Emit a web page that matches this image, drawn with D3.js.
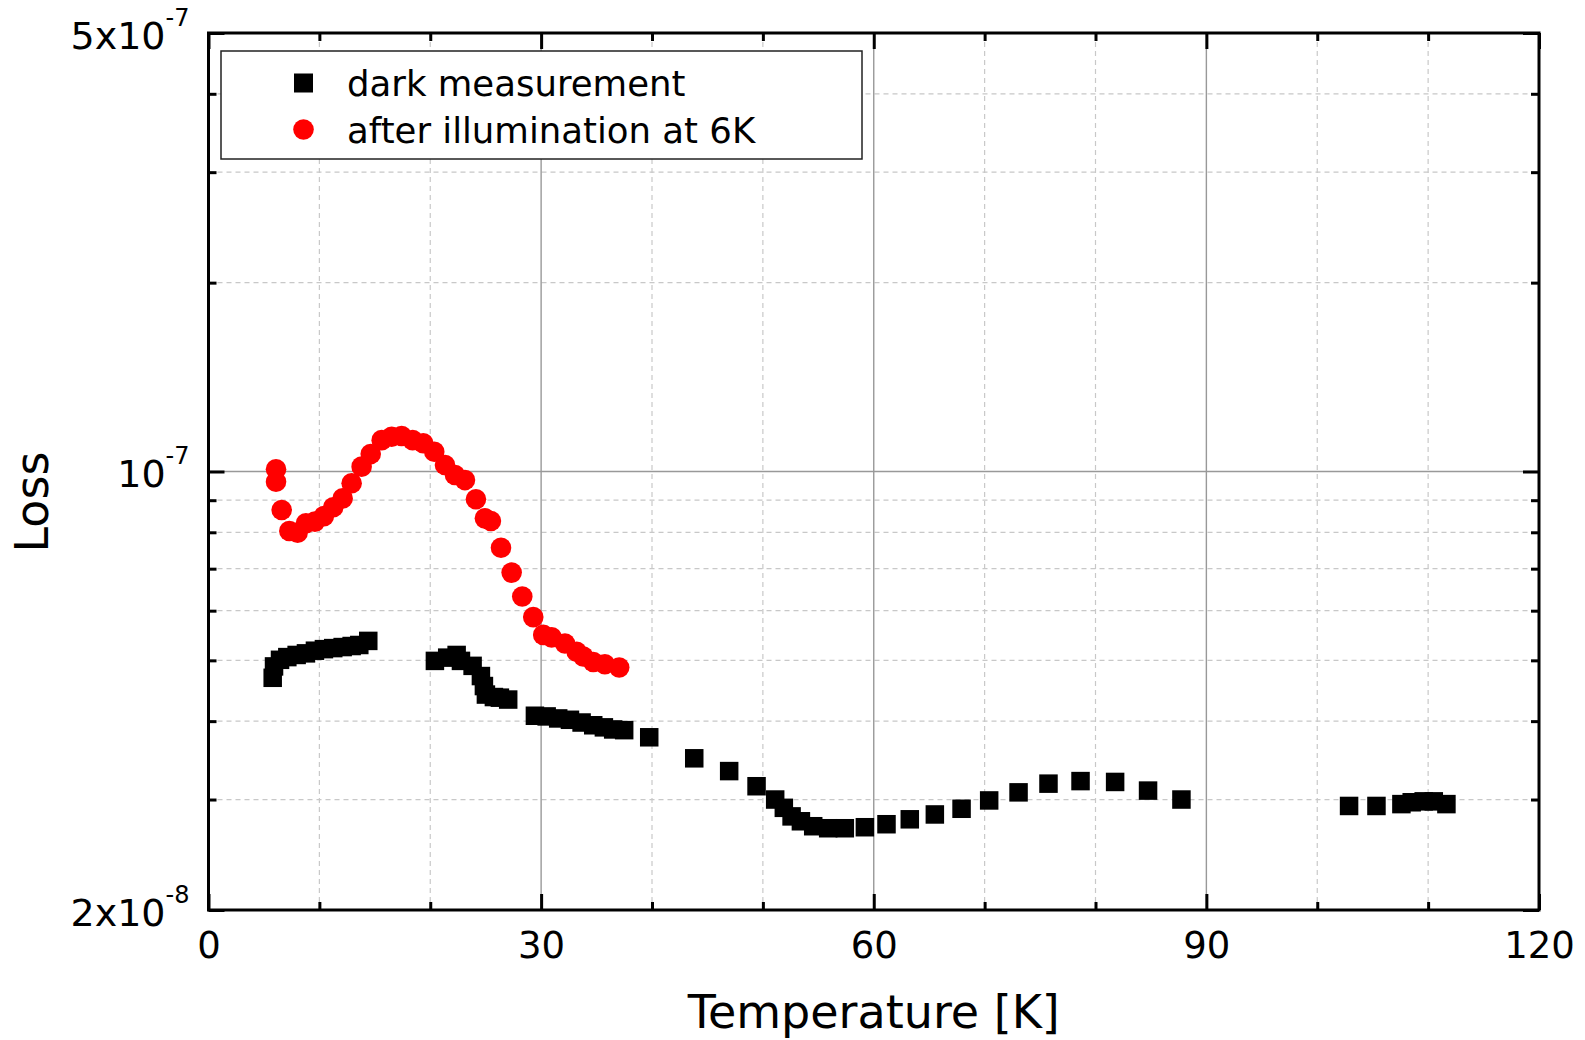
<!DOCTYPE html>
<html>
<head>
<meta charset="utf-8">
<script src="https://cdn.jsdelivr.net/npm/d3@7"></script>
<style>
  html, body { margin: 0; padding: 0; background: #fff; }
  svg { display: block; }
  text { font-family: "DejaVu Sans", Verdana, sans-serif; fill: #000; }
</style>
</head>
<body>
<svg id="chart" width="1585" height="1040"></svg>
<script>
// ---------- data ----------
const darkT = [5.79, 5.91, 6.45, 7.11, 7.95, 8.79, 9.60, 10.41, 11.25, 12.10, 12.91, 13.60, 14.41,
  20.42, 21.53, 22.38, 22.77, 23.82, 24.57, 24.84, 25.02, 25.74, 26.28, 27.03,
  29.44, 30.50, 31.54, 32.60, 33.65, 34.70, 35.66, 36.50, 37.49, 39.75, 43.81, 46.96, 49.43,
  51.11, 51.89, 52.59, 53.43, 54.54, 55.89, 57.39, 59.20, 61.15, 63.25, 65.51, 67.92, 70.41,
  73.06, 75.76, 78.65, 81.77, 84.74, 87.75, 102.87, 105.34, 107.59, 108.52, 109.60, 110.51, 111.65];
const darkLoss = [4.69e-8, 4.89e-8, 5.01e-8, 5.06e-8, 5.10e-8, 5.13e-8, 5.18e-8, 5.21e-8, 5.23e-8, 5.25e-8, 5.27e-8, 5.29e-8, 5.37e-8,
  4.99e-8, 5.05e-8, 5.10e-8, 4.99e-8, 4.90e-8, 4.72e-8, 4.55e-8, 4.41e-8, 4.37e-8, 4.36e-8, 4.33e-8,
  4.08e-8, 4.07e-8, 4.04e-8, 4.02e-8, 3.98e-8, 3.94e-8, 3.91e-8, 3.88e-8, 3.87e-8, 3.77e-8, 3.49e-8, 3.33e-8, 3.15e-8,
  3.00e-8, 2.91e-8, 2.82e-8, 2.77e-8, 2.72e-8, 2.70e-8, 2.70e-8, 2.71e-8, 2.74e-8, 2.79e-8, 2.84e-8, 2.90e-8, 2.99e-8,
  3.08e-8, 3.18e-8, 3.21e-8, 3.20e-8, 3.10e-8, 3.00e-8, 2.93e-8, 2.93e-8, 2.95e-8, 2.97e-8, 2.98e-8, 2.98e-8, 2.95e-8];

const illumT = [6.09, 6.09, 6.60, 7.29, 8.04, 8.79, 9.60, 10.41, 11.25, 12.10, 12.91, 13.81, 14.63, 15.62,
  16.52, 17.42, 18.41, 19.37, 20.36, 21.33, 22.23, 23.13, 24.12, 24.93, 25.47, 26.38, 27.34, 28.30,
  29.29, 30.19, 30.95, 32.15, 33.20, 33.80, 34.70, 35.75, 37.04];
const illumLoss = [1.008e-7, 9.63e-8, 8.68e-8, 8.04e-8, 7.99e-8, 8.27e-8, 8.32e-8, 8.49e-8, 8.77e-8, 9.06e-8, 9.58e-8, 1.018e-7, 1.066e-7, 1.122e-7,
  1.136e-7, 1.139e-7, 1.122e-7, 1.109e-7, 1.075e-7, 1.024e-7, 9.87e-8, 9.69e-8, 9.03e-8, 8.42e-8, 8.34e-8, 7.56e-8, 6.90e-8, 6.32e-8,
  5.86e-8, 5.49e-8, 5.44e-8, 5.32e-8, 5.16e-8, 5.07e-8, 4.97e-8, 4.93e-8, 4.87e-8];

const seriesNames = ["dark measurement", "after illumination at 6K"];
const xMajorTicks = [0, 30, 60, 90, 120];
const xMinorTicks = [10, 20, 40, 50, 70, 80, 100, 110];
const yMajorTicks = [2e-8, 1e-7, 5e-7];
const yTickBase = ["2x10", "10", "5x10"];
const yTickExp = ["-8", "-7", "-7"];
const yMinorTicks = [3e-8, 4e-8, 5e-8, 6e-8, 7e-8, 8e-8, 9e-8, 2e-7, 3e-7, 4e-7];
const xTitle = "Temperature [K]";
const yTitle = "Loss";

// ---------- layout ----------
const L = 208.5, R = 1539, T = 33, B = 910;
const svg = d3.select("#chart");
const x = d3.scaleLinear().domain([0, 120]).range([L, R]);
const y = d3.scaleLog().domain([2e-8, 5e-7]).range([B, T]);

// grid
const grid = svg.append("g");
grid.selectAll(".gxm").data(xMinorTicks).join("line")
  .attr("x1", d => x(d)).attr("x2", d => x(d)).attr("y1", T).attr("y2", B)
  .attr("stroke", "#c8c8c8").attr("stroke-width", 1.2).attr("stroke-dasharray", "5,4");
grid.selectAll(".gym").data(yMinorTicks).join("line")
  .attr("y1", d => y(d)).attr("y2", d => y(d)).attr("x1", L).attr("x2", R)
  .attr("stroke", "#c8c8c8").attr("stroke-width", 1.2).attr("stroke-dasharray", "5,4");
grid.selectAll(".gxM").data(xMajorTicks.filter(d => d > 0 && d < 120)).join("line")
  .attr("x1", d => x(d)).attr("x2", d => x(d)).attr("y1", T).attr("y2", B)
  .attr("stroke", "#999").attr("stroke-width", 1.4);
grid.selectAll(".gyM").data(yMajorTicks.filter(d => d > 2e-8 && d < 5e-7)).join("line")
  .attr("y1", d => y(d)).attr("y2", d => y(d)).attr("x1", L).attr("x2", R)
  .attr("stroke", "#999").attr("stroke-width", 1.4);

// data
const darkData = darkT.map((t, i) => ({t, v: darkLoss[i]}));
const illumData = illumT.map((t, i) => ({t, v: illumLoss[i]}));
const sq = 18.5, rc = 10.3;
svg.append("g").selectAll("rect").data(darkData).join("rect")
  .attr("x", d => x(d.t) - sq / 2).attr("y", d => y(d.v) - sq / 2)
  .attr("width", sq).attr("height", sq).attr("fill", "#000");
svg.append("g").selectAll("circle").data(illumData).join("circle")
  .attr("cx", d => x(d.t)).attr("cy", d => y(d.v)).attr("r", rc).attr("fill", "#ff0000");

// legend
const lg = svg.append("g");
lg.append("rect").attr("x", 221).attr("y", 51).attr("width", 641).attr("height", 108)
  .attr("fill", "#fff").attr("stroke", "#222").attr("stroke-width", 1.5);
lg.append("rect").attr("x", 303.5 - 9.5).attr("y", 83 - 9.5).attr("width", 19).attr("height", 19).attr("fill", "#000");
lg.append("circle").attr("cx", 303.5).attr("cy", 129.5).attr("r", 10.3).attr("fill", "#ff0000");
lg.selectAll("text").data(seriesNames).join("text")
  .attr("x", 347).attr("y", (d, i) => i === 0 ? 96 : 143)
  .attr("font-size", 35.5).text(d => d);

// axes ticks
function styleAxis(g) {
  g.select(".domain").remove();
  g.selectAll(".tick line").attr("stroke", "#000").attr("stroke-width", 3);
}
// bottom
const axB = svg.append("g").attr("transform", `translate(0,${B})`)
  .call(d3.axisBottom(x).tickValues(xMajorTicks).tickSizeInner(-16).tickSizeOuter(0).tickPadding(0));
styleAxis(axB);
axB.selectAll(".tick text").attr("dy", null).attr("y", 48).attr("font-size", 37)
  .attr("font-family", "DejaVu Sans");
const axBm = svg.append("g").attr("transform", `translate(0,${B})`)
  .call(d3.axisBottom(x).tickValues(xMinorTicks).tickSizeInner(-8).tickSizeOuter(0).tickFormat(""));
styleAxis(axBm);
// top
const axT = svg.append("g").attr("transform", `translate(0,${T})`)
  .call(d3.axisTop(x).tickValues(xMajorTicks).tickSizeInner(-16).tickSizeOuter(0).tickFormat(""));
styleAxis(axT);
const axTm = svg.append("g").attr("transform", `translate(0,${T})`)
  .call(d3.axisTop(x).tickValues(xMinorTicks).tickSizeInner(-8).tickSizeOuter(0).tickFormat(""));
styleAxis(axTm);
// left
const axL = svg.append("g").attr("transform", `translate(${L},0)`)
  .call(d3.axisLeft(y).tickValues(yMajorTicks).tickSizeInner(-16).tickSizeOuter(0).tickFormat(""));
styleAxis(axL);
axL.selectAll(".tick text").each(function(d, i) {
  const t = d3.select(this).attr("x", -19).attr("y", 15).attr("dy", null)
    .attr("text-anchor", "end").attr("font-size", 38).attr("font-family", "DejaVu Sans");
  t.text(null);
  t.append("tspan").text(yTickBase[i]);
  t.append("tspan").attr("dy", -23).attr("font-size", 24).text(yTickExp[i]);
});
const axLm = svg.append("g").attr("transform", `translate(${L},0)`)
  .call(d3.axisLeft(y).tickValues(yMinorTicks).tickSizeInner(-8).tickSizeOuter(0).tickFormat(""));
styleAxis(axLm);
// right
const axR = svg.append("g").attr("transform", `translate(${R},0)`)
  .call(d3.axisRight(y).tickValues(yMajorTicks).tickSizeInner(-16).tickSizeOuter(0).tickFormat(""));
styleAxis(axR);
const axRm = svg.append("g").attr("transform", `translate(${R},0)`)
  .call(d3.axisRight(y).tickValues(yMinorTicks).tickSizeInner(-8).tickSizeOuter(0).tickFormat(""));
styleAxis(axRm);

// frame
svg.append("rect").attr("x", L).attr("y", T).attr("width", R - L).attr("height", B - T)
  .attr("fill", "none").attr("stroke", "#000").attr("stroke-width", 3);

// titles
svg.append("text").attr("x", (L + R) / 2).attr("y", 1028).attr("text-anchor", "middle")
  .attr("font-size", 46).text(xTitle);
svg.append("text").attr("transform", "translate(48,502) rotate(-90)").attr("text-anchor", "middle")
  .attr("font-size", 46).text(yTitle);
</script>
</body>
</html>
